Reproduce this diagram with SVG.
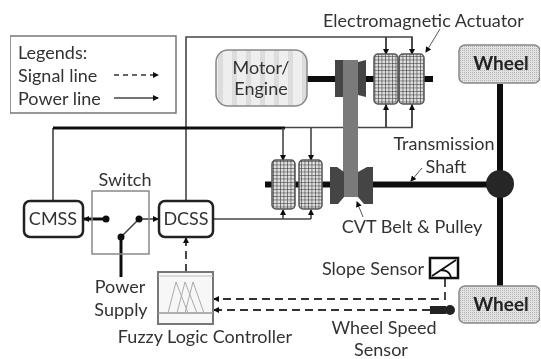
<svg xmlns="http://www.w3.org/2000/svg" width="541" height="359" viewBox="0 0 541 359">
<style>
text{font-family:"Lato","Liberation Sans",sans-serif;font-size:18px;fill:#333}
.m{text-anchor:middle}
.b{font-weight:700;fill:#222;font-size:19px}
.w{fill:none;stroke:#444;stroke-width:1.6}
.t{fill:none;stroke:#555;stroke-width:1}
.k{fill:none;stroke:#111;stroke-width:3}
.s{fill:none;stroke:#111;stroke-width:6}
.d{fill:none;stroke:#333;stroke-width:1.8;stroke-dasharray:8 5}
.act{fill:url(#grid);stroke:#555;stroke-width:1.5}
.wheel{fill:url(#dots);stroke:#888;stroke-width:1.5}
.dot{fill:#111}
</style>
<defs>
<filter id="soft" x="0" y="0" width="100%" height="100%"><feGaussianBlur stdDeviation="0.4"/></filter>
<marker id="a" markerWidth="6" markerHeight="6" refX="5" refY="3" orient="auto" markerUnits="userSpaceOnUse"><path d="M0 0L6 3L0 6Z" fill="#111"/></marker>
<pattern id="grid" width="3.500" height="3.500" patternUnits="userSpaceOnUse"><rect width="3.500" height="3.500" fill="#ddd"/><path d="M0 0H3.500M0 0V3.500" stroke="#222" stroke-width="1"/></pattern>
<pattern id="dots" width="2" height="2" patternUnits="userSpaceOnUse"><rect width="2" height="2" fill="#e2e2e2"/><rect width="1" height="1" fill="#b4b4b4"/></pattern>
<pattern id="stripes" width="14" height="14" patternUnits="userSpaceOnUse"><rect width="14" height="14" fill="#eeeeee"/><rect width="5" height="14" x="8" fill="#dcdcdc"/></pattern>
</defs>
<g filter="url(#soft)">
<g id="connectors">
<path class="w" d="M53 128V201M285 127.500H412V104M386 127.500V104M186 201V37H412V53M386 37V53"/>
<path class="k" d="M53 128H285"/>
<path class="w" marker-end="url(#a)" d="M386 37V54"/>
<path class="w" marker-end="url(#a)" d="M412 37V54"/>
<path class="w" marker-end="url(#a)" d="M386 127V105"/>
<path class="w" marker-end="url(#a)" d="M412 127V105"/>
<path class="w" marker-end="url(#a)" d="M283 128V160"/>
<path class="w" marker-end="url(#a)" d="M311 128V160"/>
<path class="w" d="M213 219H311"/>
<path class="w" marker-end="url(#a)" d="M283 219V210"/>
<path class="w" marker-end="url(#a)" d="M311 219V210"/>
<path class="s" d="M307 79H433M265 184.500H332M373 184.500H490M500 84V286"/>
<path class="k" marker-end="url(#a)" d="M106 219H84"/>
<path class="w" d="M139 219L121 237"/>
<path class="w" marker-end="url(#a)" d="M139 219H158"/>
<path class="k" d="M121 237V277"/>
<path class="d" marker-end="url(#a)" d="M186 272V238"/>
<path class="d" marker-end="url(#a)" d="M445 279V299H214"/>
<path class="d" marker-end="url(#a)" d="M430 310H214"/>
<path class="t" marker-end="url(#a)" d="M440 29L426 52"/>
<path class="t" marker-end="url(#a)" d="M422 168L411 181"/>
<path class="t" marker-end="url(#a)" d="M363 217L357 202"/>
</g>
<g id="legend"><rect x="10" y="36" width="166" height="77" fill="#fff" stroke="#777" stroke-width="1.500"/>
<text x="18" y="59">Legends:</text><text x="18" y="82">Signal line</text><text x="18" y="105">Power line</text>
<path class="d" marker-end="url(#a)" style="stroke-dasharray:5 4;stroke-width:1.500" d="M114 75H158"/>
<path class="w" marker-end="url(#a)" d="M114 98H158"/></g>
<g id="motor"><rect x="216" y="50" width="91" height="56" rx="12" fill="url(#stripes)" stroke="#888" stroke-width="1.500"/>
<text class="m" x="261" y="74">Motor/</text><text class="m" x="261" y="95">Engine</text></g>
<g id="top-actuator"><rect class="act" x="374" y="54" width="24" height="50" rx="4"/><rect class="act" x="399" y="54" width="25" height="50" rx="4"/></g>
<g id="bottom-actuator"><rect class="act" x="272" y="160" width="23" height="49" rx="4"/><rect class="act" x="299" y="160" width="23" height="49" rx="4"/></g>
<g id="cvt"><rect x="343" y="60" width="15" height="137" fill="#7a7a7a"/>
<path d="M335 60H343V97H335Z" fill="#444"/><path d="M358 62L366 60V97L358 95Z" fill="#444"/>
<path d="M330 167H337L344 172V197L338 204H330Z" fill="#444"/><path d="M373 167H367L358 172V197L364 204H373Z" fill="#444"/></g>
<g id="hub"><circle cx="500" cy="184" r="14" fill="#262626"/></g>
<g id="wheel-top"><rect class="wheel" x="459" y="45" width="81" height="38" rx="6"/><text class="m b" x="501" y="70">Wheel</text></g>
<g id="wheel-bottom"><rect class="wheel" x="459" y="286" width="81" height="37" rx="6"/><text class="m b" x="501" y="311">Wheel</text></g>
<g id="cmss"><rect x="24" y="201" width="59" height="36" rx="6" fill="#fff" stroke="#222" stroke-width="2.500"/><text class="m" x="53" y="225">CMSS</text></g>
<g id="dcss"><rect x="159" y="201" width="54" height="36" rx="6" fill="#fff" stroke="#222" stroke-width="2.500"/><text class="m" x="186" y="225">DCSS</text></g>
<g id="switch"><rect x="92" y="191" width="57" height="63" fill="none" stroke="#888" stroke-width="1.500"/><text class="m" x="125" y="186">Switch</text>
<circle class="dot" cx="106" cy="219" r="3.500"/><circle class="dot" cx="139" cy="219" r="3.500"/><circle class="dot" cx="121" cy="237" r="3.500"/></g>
<g id="fuzzy"><rect x="158" y="272" width="55" height="52" fill="#f7f7f7" stroke="#777" stroke-width="2"/><path d="M158 276H213" stroke="#bbb" fill="none"/><path d="M158 313H213" stroke="#999" stroke-width="1.500" fill="none"/>
<path d="M168 313L176 282L188 313M177 313L185 282L197 313M185 313L193 282L204 313" fill="none" stroke="#aaa"/></g>
<g id="slope-sensor"><rect x="430" y="258" width="28" height="20" fill="#fff" stroke="#111" stroke-width="2.500"/><path d="M432 276L456 260M441 270Q449 270 451 277" fill="none" stroke="#111" stroke-width="1.800"/></g>
<g id="speed-sensor"><rect x="430" y="306" width="16" height="8" fill="#222"/><circle cx="450" cy="310" r="5" fill="#222"/></g>
<g id="labels">
<text x="323" y="27">Electromagnetic Actuator</text>
<text class="m" x="444" y="150">Transmission</text><text class="m" x="446" y="173">Shaft</text>
<text class="m" x="412" y="233">CVT Belt &amp; Pulley</text>
<text class="m" x="120" y="293">Power</text><text class="m" x="121" y="316">Supply</text>
<text class="m" x="205" y="343">Fuzzy Logic Controller</text>
<text class="m" x="373" y="275">Slope Sensor</text>
<text class="m" x="384" y="334">Wheel Speed</text><text class="m" x="381" y="356">Sensor</text>
</g>
</g>
</svg>
